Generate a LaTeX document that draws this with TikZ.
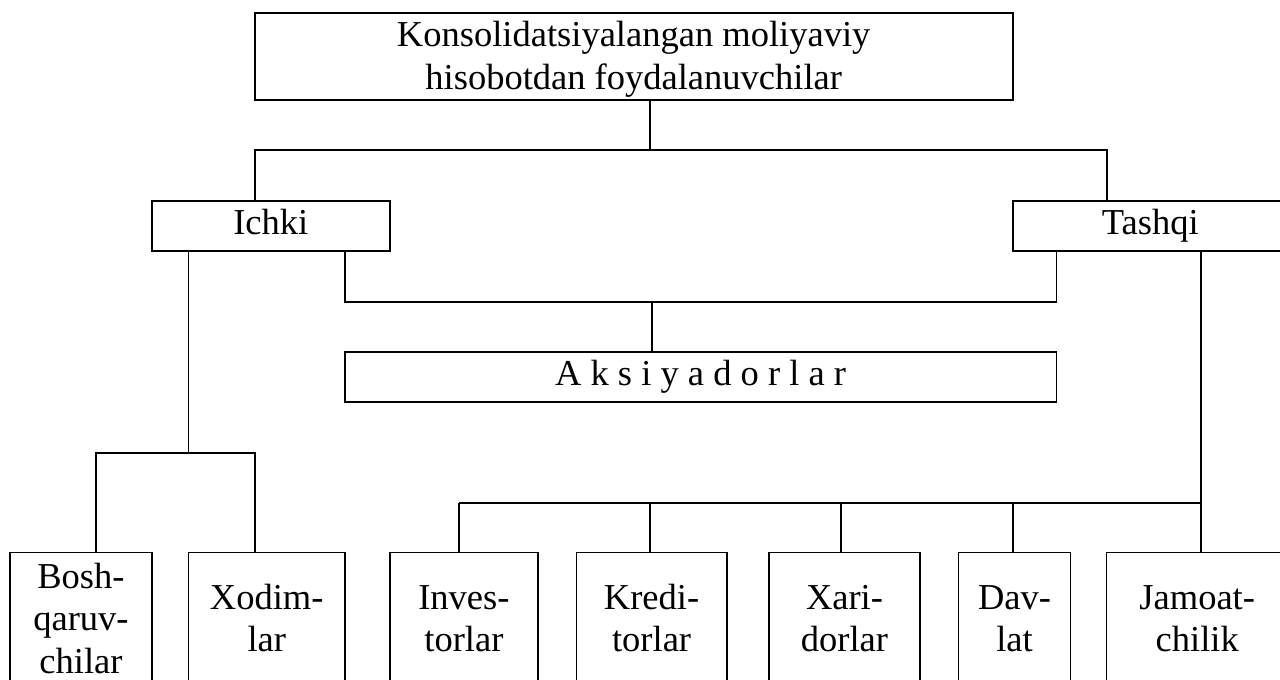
\documentclass[tikz,border=0pt]{standalone}
\usepackage{fontspec}
\setmainfont{Liberation Serif}
\begin{document}
\begin{tikzpicture}[x=1pt,y=-1pt,
  box/.style={draw, line width=1.6pt, rectangle, inner sep=0pt, outer sep=0pt,
    font=\fontsize{36.5}{42.5}\selectfont},
  conn/.style={line width=1.6pt}]
\path[use as bounding box, clip] (0,0) rectangle (1280,680);
\fill[white] (0,0) rectangle (1280,680);
% top box
\node[box, minimum width=758pt, minimum height=87.3pt] (top) at (633.7,56.35)
  {\raisebox{-3pt}[\height][\depth]{\begin{tabular}{@{}c@{}}Konsolidatsiyalangan moliyaviy\\hisobotdan foydalanuvchilar\end{tabular}}};
% second level
\node[box, minimum width=238pt, minimum height=50pt] (ichki) at (270.8,225.7)
  {\begin{tabular}{@{}c@{}}Ichki\end{tabular}};
\node[box, minimum width=275.3pt, minimum height=50pt] (tashqi) at (1150.35,225.7)
  {\begin{tabular}{@{}c@{}}Tashqi\end{tabular}};
\node[box, minimum width=711.4pt, minimum height=49.7pt] (aksiya) at (700.6,376.85)
  {\begin{tabular}{@{}c@{}}A k s i y a d o r l a r\end{tabular}};
% bottom boxes
\node[box, minimum width=141.6pt, minimum height=139.4pt] (bosh) at (81,622)
  {\begin{tabular}{@{}c@{}}Bosh-\\qaruv-\\chilar\end{tabular}};
\node[box, minimum width=156.3pt, minimum height=139.4pt] (xodim) at (266.75,622)
  {\begin{tabular}{@{}c@{}}Xodim-\\lar\end{tabular}};
\node[box, minimum width=148.2pt, minimum height=139.4pt] (inves) at (463.9,622)
  {\begin{tabular}{@{}c@{}}Inves-\\torlar\end{tabular}};
\node[box, minimum width=150.6pt, minimum height=139.4pt] (kredi) at (651.6,622)
  {\begin{tabular}{@{}c@{}}Kredi-\\torlar\end{tabular}};
\node[box, minimum width=151pt, minimum height=139.4pt] (xari) at (844.5,622)
  {\begin{tabular}{@{}c@{}}Xari-\\dorlar\end{tabular}};
\node[box, minimum width=112.2pt, minimum height=139.4pt] (dav) at (1014.5,622)
  {\begin{tabular}{@{}c@{}}Dav-\\lat\end{tabular}};
\node[box, minimum width=181.5pt, minimum height=139.4pt] (jamoat) at (1197.25,622)
  {\begin{tabular}{@{}c@{}}Jamoat-\\chilik\end{tabular}};
% junction coordinates
\coordinate (b1) at (650,150);
\coordinate (hA) at (255,150);
\coordinate (hB) at (1107,150);
\coordinate (hC) at (345,301.7);
\coordinate (hD) at (1056.3,301.7);
\coordinate (b2) at (652,301.7);
\coordinate (c1) at (188.6,452.7);
\coordinate (c2) at (96,452.7);
\coordinate (c3) at (255,452.7);
\coordinate (d0) at (1200.7,503);
\coordinate (d1) at (459,503);
\coordinate (d2) at (650.2,503);
\coordinate (d3) at (840.8,503);
\coordinate (d4) at (1012.7,503);
% connectors
\draw[conn] (top.south -| b1) -- (b1);
\draw[conn] (ichki.north -| hA) -- (hA) -- (hB) -- (tashqi.north -| hB);
\draw[conn] (ichki.south -| hC) -- (hC) -- (hD) -- (tashqi.south -| hD);
\draw[conn] (b2) -- (aksiya.north -| b2);
\draw[conn] (ichki.south -| c1) -- (c1);
\draw[conn] (bosh.north -| c2) -- (c2) -- (c3) -- (xodim.north -| c3);
\draw[conn] (tashqi.south -| d0) -- (jamoat.north -| d0);
\draw[conn] (d1) -- (d0);
\draw[conn] (d1) -- (inves.north -| d1);
\draw[conn] (d2) -- (kredi.north -| d2);
\draw[conn] (d3) -- (xari.north -| d3);
\draw[conn] (d4) -- (dav.north -| d4);
\end{tikzpicture}
\end{document}
